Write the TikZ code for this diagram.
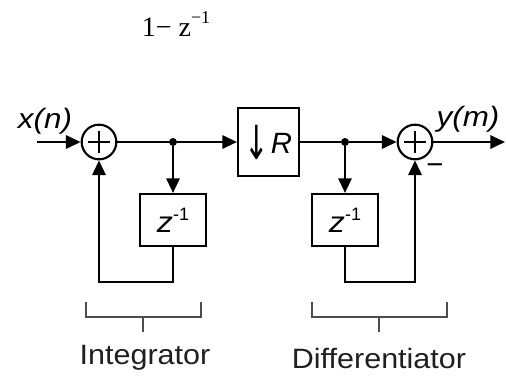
\documentclass[tikz,border=0pt]{standalone}
\usepackage{fontspec}
\setmainfont{Liberation Sans}
\newfontfamily\serifface{Liberation Serif}
\newfontfamily\symface{DejaVu Sans}
\usetikzlibrary{arrows.meta}

\begin{document}
\begin{tikzpicture}[x=0.75pt,y=-0.75pt,
  wire/.style={line width=1.6pt},
  flow/.style={wire,-{Triangle[length=11pt,width=10pt]}},
  sumnode/.style={circle,draw,line width=1.6pt,minimum size=26pt,inner sep=0pt},
  rbox/.style={draw,line width=1.6pt,inner sep=0pt,minimum width=45.75pt,minimum height=51pt},
  zbox/.style={draw,line width=1.6pt,inner sep=0pt,minimum width=50pt,minimum height=39pt},
  junction/.style={circle,fill,inner sep=0pt,minimum size=6pt},
  brace/.style={line width=1.4pt,draw=black!70},
  sig/.style={font=\fontsize{21}{25}\selectfont\itshape},
  caption/.style={font=\fontsize{21}{25}\selectfont,text=black!88},
  zlabel/.style={font=\fontsize{22}{26}\selectfont},
]
\useasboundingbox (0,0) rectangle (506,376);

% transfer function printed above the structure
\node[font=\serifface\fontsize{21}{25}\selectfont] (tf) at (176,24)
  {1− z\raisebox{0.45em}{\fontsize{13.5}{16}\selectfont −1}};

% main signal path
\coordinate (in) at (37,142);
\coordinate (out) at (505,142);
\node[sumnode] (s1) at (99,142) {};
\node[junction] (j1) at (173,142) {};
\node[rbox] (dec) at (268.5,142) {};
\node[junction] (j2) at (345,142) {};
\node[sumnode] (s2) at (415,142) {};

% plus signs in the adders
\foreach \s in {s1,s2}{
  \draw[wire] (\s.center) +(-11,0) -- +(11,0);
  \draw[wire] (\s.center) +(0,-11) -- +(0,11);
}

% decimator label: down-sampling by R
\node[font=\fontsize{22}{26}\selectfont] (declabel) at (dec.center)
  {\raisebox{-0.18em}{\symface\scalebox{1}[1.6]{↓}}\kern1pt\textit{R}};

% delay elements
\node[zbox] (z1) at (173,220) {};
\node[zbox] (z2) at (345,220) {};
\foreach \z in {z1,z2}{
  \node[zlabel] at (\z.center)
    {\scalebox{1.1}[1]{\textit{z}}\raisebox{9pt}{\fontsize{13.5}{16}\selectfont -1}};
}

% feedback / feedforward corners
\coordinate (fb1) at (173,282);
\coordinate (fb2) at (345,282);

\draw[flow] (in) -- (s1.west);
\draw[wire] (s1.east) -- (j1);
\draw[flow] (j1) -- (dec.west);
\draw[flow] (j1) -- (z1.north);
\draw[flow] (z1.south) -- (fb1) -| (s1.south);
\draw[wire] (dec.east) -- (j2);
\draw[flow] (j2) -- (s2.west);
\draw[flow] (j2) -- (z2.north);
\draw[flow] (z2.south) -- (fb2) -| (s2.south);
\draw[flow] (s2.east) -- (out);

% signal names
\node[sig] (xn) at (45,121) {\scalebox{1.12}[1]{x(n)}};
\node[sig] (ym) at (468,119) {\scalebox{1.12}[1]{y(m)}};
\node[font=\fontsize{22}{26}\selectfont] (minus) at (435,169) {−};

% stage brackets
\draw[brace] (86,302) -- (86,317) -- (201,317) -- (201,302);
\draw[brace] (143,317) -- (143,332);
\draw[brace] (312,302) -- (312,317) -- (447,317) -- (447,302);
\draw[brace] (379,317) -- (379,332);

\node[caption] (integ) at (145,358) {\scalebox{1.09}[1]{Integrator}};
\node[caption] (diff) at (379,358) {\scalebox{1.09}[1]{Differentiator}};
\end{tikzpicture}
\end{document}
